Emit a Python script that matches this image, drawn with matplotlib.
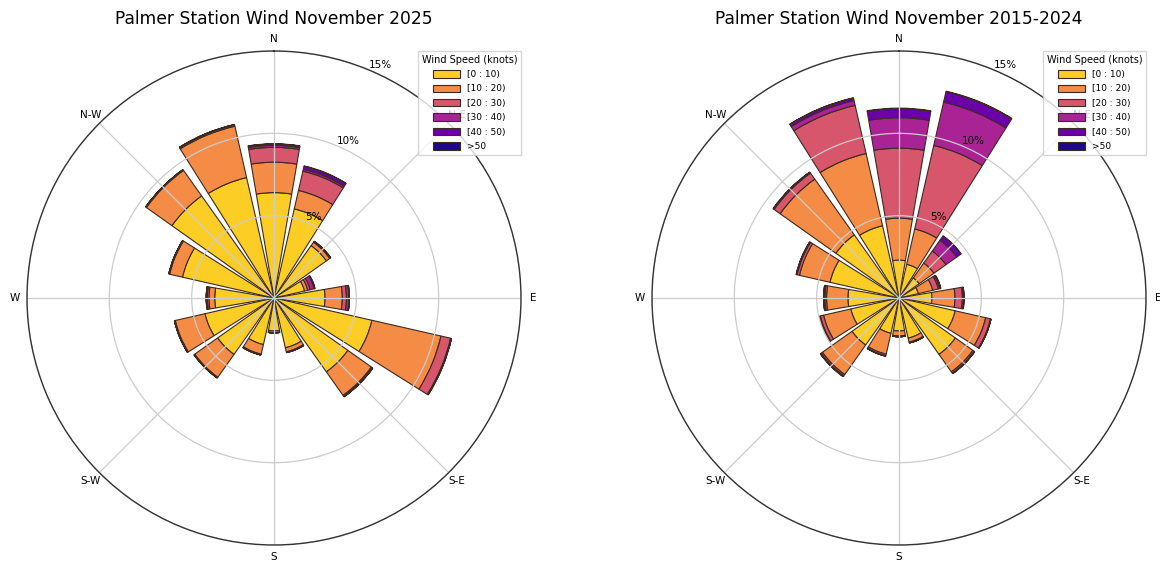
import numpy as np
import matplotlib
matplotlib.use("Agg")
import matplotlib.pyplot as plt
from matplotlib.patches import Patch

# 16 compass sectors, clockwise from North
directions = np.arange(16) * 22.5
speed_bins = ['[0 : 10)', '[10 : 20)', '[20 : 30)', '[30 : 40)', '[40 : 50)', '>50']
dir_labels = ['N', 'N-E', 'E', 'S-E', 'S', 'S-W', 'W', 'N-W']

# November 2025 (% of time), one list per speed bin
nov2025_0_10 = [6.4, 5.55, 3.9, 1.9, 3.1, 6.1, 5.5, 3.1, 2.0, 2.9, 4.2, 4.3, 3.6, 5.7, 7.6, 7.5]
nov2025_10_20 = [1.85, 1.15, 0.25, 0.2, 1.05, 4.3, 1.75, 0.25, 0.1, 0.6, 1.7, 1.85, 0.35, 0.8, 1.9, 3.2]
nov2025_20_30 = [0.9, 1.2, 0.05, 0.15, 0.25, 0.6, 0.08, 0.05, 0.02, 0.05, 0.05, 0.05, 0.1, 0.05, 0.05, 0.08]
nov2025_30_40 = [0.12, 0.12, 0.02, 0.25, 0.15, 0.05, 0.02, 0, 0, 0, 0, 0, 0.05, 0, 0, 0.02]
nov2025_40_50 = [0.08, 0.18, 0, 0.05, 0.03, 0, 0, 0, 0, 0, 0, 0, 0.02, 0, 0, 0]
nov2025_50 = [0.02, 0.03, 0, 0, 0, 0, 0, 0, 0, 0, 0, 0, 0, 0, 0, 0]

# November 2015-2024
clim_0_10 = [2.3, 2.1, 1.5, 1.2, 2.0, 3.5, 4.2, 2.5, 2.0, 2.2, 3.5, 3.0, 3.1, 4.3, 4.7, 4.5]
clim_10_20 = [2.55, 2.2, 1.1, 0.9, 1.4, 1.9, 1.3, 0.25, 0.3, 1.3, 2.2, 1.7, 1.3, 1.9, 4.15, 4.5]
clim_20_30 = [4.25, 5.2, 0.9, 0.35, 0.45, 0.3, 0.1, 0.05, 0.05, 0.1, 0.1, 0.2, 0.1, 0.15, 0.45, 3.0]
clim_30_40 = [1.85, 2.7, 0.8, 0.1, 0.08, 0.03, 0.03, 0, 0, 0.02, 0.05, 0.05, 0.05, 0.05, 0.05, 0.3]
clim_40_50 = [0.55, 0.65, 0.3, 0.05, 0.02, 0, 0, 0, 0, 0, 0, 0, 0.03, 0, 0.02, 0.15]
clim_50 = [0.03, 0.03, 0.03, 0, 0, 0, 0, 0, 0, 0, 0, 0, 0, 0, 0, 0.02]

nov2025 = [nov2025_0_10, nov2025_10_20, nov2025_20_30, nov2025_30_40, nov2025_40_50, nov2025_50]
clim = [clim_0_10, clim_10_20, clim_20_30, clim_30_40, clim_40_50, clim_50]

colors = [plt.cm.plasma_r(v) for v in np.linspace(0.1, 0.97, 6)]
edge = '#3b2a22'


def windrose(ax, table):
    theta = np.deg2rad(directions)
    width = 2 * np.pi / 16 * 0.86
    bottom = np.zeros(16)
    for vals, c in zip(table, colors):
        vals = np.array(vals)
        ax.bar(theta, vals, width=width, bottom=bottom, color=c,
               edgecolor=edge, linewidth=0.8)
        bottom = bottom + vals
    ax.set_theta_zero_location('N')
    ax.set_theta_direction(-1)
    ax.set_thetagrids(np.arange(0, 360, 45), labels=dir_labels, fontsize=7.5)
    ax.tick_params(axis='x', pad=-2)
    ax.set_ylim(0, 15)
    ax.set_yticks([5, 10, 15])
    ax.set_yticklabels(['5%', '10%', '15%'], fontsize=7.5)
    ax.set_rlabel_position(22.5)
    ax.grid(color='#cccccc', linewidth=0.9)
    ax.spines['polar'].set_color('#333333')
    ax.spines['polar'].set_linewidth(1.0)
    handles = [Patch(facecolor=c, edgecolor=edge, linewidth=0.8) for c in colors]
    ax.legend(handles, speed_bins, title='Wind Speed (knots)', loc='upper right',
              bbox_to_anchor=(1.0, 1.0), borderaxespad=0, fontsize=6.5,
              title_fontsize=7, handlelength=3.0, handleheight=0.9,
              labelspacing=0.6, fancybox=False)


fig = plt.figure(figsize=(11.6, 5.63), dpi=100)
ax1 = fig.add_axes([27 / 1160, 18 / 563, 494 / 1160, 494 / 563], projection='polar')
ax2 = fig.add_axes([652 / 1160, 18 / 563, 494 / 1160, 494 / 563], projection='polar')

windrose(ax1, nov2025)
windrose(ax2, clim)

fig.text(274 / 1160, 1 - 19 / 563, 'Palmer Station Wind November 2025',
         ha='center', va='center', fontsize=12.3)
fig.text(899 / 1160, 1 - 19 / 563, 'Palmer Station Wind November 2015-2024',
         ha='center', va='center', fontsize=12.3)

fig.savefig('out.png', dpi=100)
